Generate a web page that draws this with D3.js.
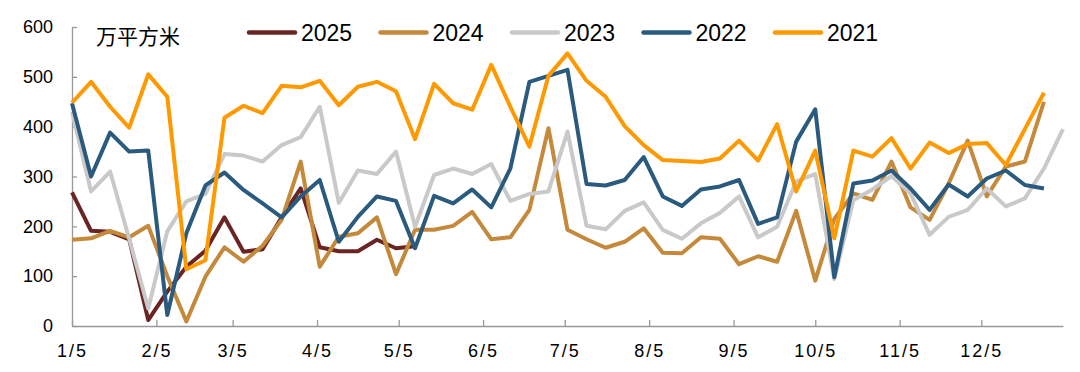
<!DOCTYPE html>
<html>
<head>
<meta charset="utf-8">
<script src="https://cdn.jsdelivr.net/npm/d3@7"></script>
<style>
    body { margin: 0; background: #fff; }
    svg { display: block; font-family: "Liberation Sans", Arial, sans-serif; }
    .axis path, .axis line { stroke: #999; stroke-width: 1.3; }
    .axis text { fill: #000; font-size: 18px; }
    .x.axis text { letter-spacing: 2px; }
    .line { fill: none; stroke-width: 4; stroke-linejoin: round; }
</style>
</head>
<body>
<div id="chart"></div>
<script>
// weekly values, first point on 1/5
const years = ["2025", "2024", "2023", "2022", "2021"];
const colors = ["#6B2424", "#C4893A", "#C9C9C9", "#2A5A7E", "#FF9900"];

const v2025 = [268, 191, 189, 174, 12, 69, 119, 151, 218, 149, 154, 218, 276, 158, 150, 150, 173, 156, 160];
const v2024 = [173, 176, 191, 178, 201, 100, 9, 99, 158, 129, 161, 213, 330, 119, 179, 186, 218, 104, 193, 193,
    201, 229, 174, 178, 233, 397, 193, 174, 157, 169, 196, 147, 146, 178, 175, 124, 140, 129, 231, 91,
    215, 266, 253, 330, 238, 213, 286, 372, 260, 320, 330, 450];
const v2023 = [430, 270, 310, 175, 35, 190, 250, 265, 345, 342, 330, 363, 379, 440, 247, 312, 305, 350, 199, 303,
    316, 305, 325, 251, 265, 270, 390, 201, 194, 231, 248, 193, 175, 206, 227, 260, 178, 199, 290, 305,
    94, 253, 274, 301, 266, 183, 219, 233, 276, 240, 256, 316, 395];
const v2022 = [447, 300, 388, 350, 352, 22, 186, 282, 308, 273, 246, 218, 260, 293, 169, 219, 260, 251, 156, 261,
    246, 274, 238, 316, 490, 502, 514, 285, 282, 293, 339, 260, 241, 274, 280, 293, 205, 218, 370, 435,
    98, 286, 292, 312, 276, 233, 284, 260, 296, 312, 283, 276];
const v2021 = [448, 490, 440, 398, 505, 460, 114, 132, 418, 442, 427, 482, 479, 492, 443, 480, 490, 471, 375, 486,
    447, 434, 524, 440, 360, 502, 547, 492, 460, 401, 363, 333, 331, 329, 336, 372, 332, 405, 270, 352,
    176, 352, 340, 377, 316, 368, 347, 365, 367, 323, 395, 468];

const monthLabels = ["1/5", "2/5", "3/5", "4/5", "5/5", "6/5", "7/5", "8/5", "9/5", "10/5", "11/5", "12/5"];
const yTicks = [0, 100, 200, 300, 400, 500, 600];
const unitLabel = "万平方米";

const seriesValues = [v2025, v2024, v2023, v2022, v2021];

const width = 1080, height = 372;
const margin = { top: 27, right: 17, bottom: 46, left: 72 };

const svg = d3.select("#chart").append("svg")
    .attr("width", width)
    .attr("height", height);

// one common base year (non-leap), points a week apart from 1/5
const start = new Date(2021, 0, 5);
const end = new Date(2022, 0, 4);

const x = d3.scaleTime()
    .domain([start, end])
    .range([margin.left, width - margin.right]);

const y = d3.scaleLinear()
    .domain([0, 600])
    .range([height - margin.bottom, margin.top]);

const tickDates = monthLabels.map((d, i) => new Date(2021, i, 5));

// X axis
svg.append("g")
    .attr("class", "x axis")
    .attr("transform", `translate(0,${height - margin.bottom})`)
    .call(d3.axisBottom(x)
        .tickValues(tickDates)
        .tickFormat((d, i) => monthLabels[i])
        .tickSizeInner(-6)
        .tickSizeOuter(0)
        .tickPadding(18));

// Y axis
svg.append("g")
    .attr("class", "y axis")
    .attr("transform", `translate(${margin.left},0)`)
    .call(d3.axisLeft(y)
        .tickValues(yTicks)
        .tickSizeInner(-5)
        .tickSizeOuter(0)
        .tickPadding(19));

// lines
const line = d3.line()
    .x((d, i) => x(d3.timeDay.offset(start, 7 * i)))
    .y(d => y(d));

seriesValues.forEach((vals, k) => {
    svg.append("path")
        .datum(vals)
        .attr("class", "line")
        .attr("stroke", colors[k])
        .attr("d", line);
});

// unit label
svg.append("text")
    .attr("x", 96)
    .attr("y", 43.5)
    .attr("font-family", "'Noto Sans CJK SC', sans-serif")
    .attr("font-size", 21)
    .text(unitLabel);

// legend
const legend = svg.append("g").attr("class", "legend");
years.forEach((yr, k) => {
    const lx = 249 + k * 131.5;
    legend.append("line")
        .attr("x1", lx).attr("x2", lx + 46)
        .attr("y1", 32.5).attr("y2", 32.5)
        .attr("stroke", colors[k])
        .attr("stroke-width", 4.5)
        .attr("stroke-linecap", "round");
    legend.append("text")
        .attr("x", lx + 52)
        .attr("y", 40.5)
        .attr("font-size", 23)
        .text(yr);
});
</script>
</body>
</html>
